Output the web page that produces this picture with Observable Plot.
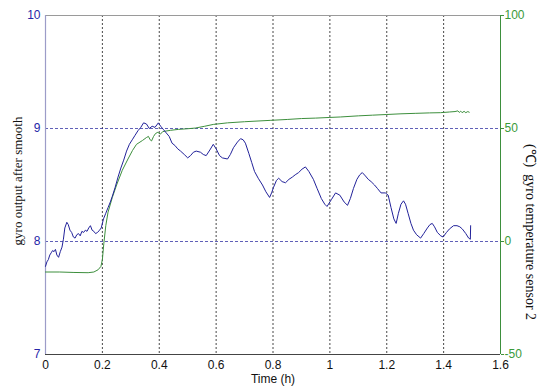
<!DOCTYPE html>
<html>
<head>
<meta charset="utf-8">
<script src="https://cdn.jsdelivr.net/npm/d3@7"></script>
<script src="https://cdn.jsdelivr.net/npm/@observablehq/plot@0.6"></script>
<style>
  html, body { margin: 0; padding: 0; background: #fff; }
  #chart { width: 540px; height: 391px; }
</style>
</head>
<body>
<div id="chart"></div>
<script>
// ---- data ----
const xTicks = [0, 0.2, 0.4, 0.6, 0.8, 1, 1.2, 1.4, 1.6];
const gridXTicks = [0.2, 0.4, 0.6, 0.8, 1, 1.2, 1.4];
const leftTicks = [7, 8, 9, 10];
const gridYTicks = [8, 9];
const rightTickLabels = [-50, 0, 50, 100];

const gyroTime = [0,0.005,0.01,0.015,0.02,0.025,0.03,0.035,0.04,0.046,0.052,0.058,0.063,0.068,0.075,0.08,0.086,0.092,0.098,0.104,0.11,0.116,0.122,0.128,0.134,0.14,0.146,0.152,0.158,0.164,0.17,0.176,0.183,0.19,0.196,0.204,0.212,0.22,0.228,0.235,0.245,0.255,0.265,0.275,0.285,0.295,0.305,0.315,0.325,0.335,0.345,0.355,0.365,0.375,0.385,0.397,0.405,0.415,0.425,0.435,0.445,0.455,0.465,0.475,0.488,0.5,0.51,0.52,0.53,0.545,0.555,0.565,0.578,0.59,0.6,0.612,0.622,0.64,0.65,0.661,0.675,0.686,0.695,0.703,0.715,0.725,0.735,0.748,0.763,0.775,0.788,0.795,0.802,0.812,0.82,0.832,0.844,0.856,0.868,0.878,0.89,0.902,0.914,0.926,0.942,0.955,0.97,0.982,0.99,1.005,1.02,1.035,1.05,1.062,1.072,1.083,1.095,1.105,1.114,1.125,1.135,1.145,1.157,1.167,1.18,1.195,1.205,1.215,1.225,1.233,1.241,1.25,1.259,1.266,1.275,1.285,1.294,1.305,1.319,1.33,1.343,1.352,1.36,1.368,1.378,1.39,1.398,1.41,1.42,1.435,1.447,1.457,1.466,1.478,1.488,1.494,1.495];
const gyroOutput = [7.78,7.82,7.84,7.88,7.9,7.92,7.91,7.93,7.88,7.86,7.91,7.95,8.02,8.12,8.17,8.15,8.1,8.08,8.04,8.03,8.06,8.07,8.05,8.09,8.08,8.1,8.09,8.12,8.14,8.1,8.09,8.07,8.08,8.1,8.12,8.2,8.25,8.3,8.35,8.4,8.48,8.57,8.65,8.72,8.8,8.86,8.9,8.94,8.98,9.01,9.05,9.04,9.0,9.02,9.01,9.05,9.02,8.99,8.96,8.93,8.87,8.85,8.82,8.8,8.77,8.74,8.76,8.79,8.8,8.79,8.77,8.76,8.81,8.86,8.82,8.76,8.74,8.73,8.77,8.83,8.88,8.91,8.9,8.87,8.78,8.7,8.62,8.56,8.5,8.44,8.39,8.43,8.48,8.54,8.56,8.53,8.52,8.55,8.57,8.59,8.61,8.64,8.66,8.62,8.55,8.47,8.38,8.33,8.31,8.37,8.43,8.41,8.35,8.32,8.38,8.47,8.55,8.59,8.61,8.58,8.55,8.53,8.5,8.47,8.43,8.43,8.41,8.3,8.2,8.16,8.25,8.33,8.36,8.33,8.25,8.16,8.1,8.06,8.03,8.07,8.12,8.15,8.16,8.13,8.08,8.05,8.04,8.08,8.11,8.14,8.14,8.13,8.11,8.07,8.03,8.02,8.14];

const tempTime = [0,0.05,0.1,0.15,0.17,0.185,0.195,0.2,0.205,0.212,0.22,0.235,0.25,0.27,0.29,0.306,0.32,0.341,0.355,0.362,0.368,0.373,0.38,0.387,0.395,0.404,0.412,0.42,0.44,0.467,0.5,0.527,0.56,0.59,0.64,0.7,0.79,0.85,0.9,0.95,1.0,1.037,1.1,1.15,1.2,1.25,1.3,1.35,1.389,1.42,1.44,1.45,1.455,1.46,1.465,1.472,1.478,1.485,1.49];
const tempSensor2 = [-13.5,-13.5,-13.7,-13.8,-13.5,-12.5,-11,-8,-1,7,13,19.5,25,31.5,36.5,40.3,43,44.7,46,46.5,45,44.5,46.5,47.8,48.3,47.5,48.6,48.8,49.2,49.6,49.9,50.2,51,51.8,52.5,53,53.6,54,54.4,54.6,54.9,55.1,55.6,55.9,56.2,56.5,56.7,56.9,57,57.3,57.5,57.8,57.1,57.7,57.0,57.6,57.0,57.5,57.2];

const xLabel = "Time (h)";
const leftLabel = "gyro output after smooth";
const rightLabel = "(\u2103)\u00a0\u00a0gyro temperature sensor 2";

// ---- build tables ----
const BLUE = "#22229a";
const BLUE_TXT = "#2626a8";
const GREEN = "#3d8f3d";
const GREEN_TXT = "#3a9a3a";

// right axis (-50..100) mapped onto the left scale (7..10)
const tempToLeft = t => 7 + (t + 50) / 50;
const leftToTemp = v => Math.round((v - 7) * 50 - 50);

const gyroData = gyroTime.map((t, i) => ({t, v: gyroOutput[i]}));
const tempData = tempTime.map((t, i) => ({t, v: tempToLeft(tempSensor2[i])}));
const rightTicks = rightTickLabels.map(tempToLeft);
const fmt = d => String(+(+d).toFixed(1));

const chart = Plot.plot({
  width: 540,
  height: 391,
  marginTop: 15,
  marginBottom: 37,
  marginLeft: 45,
  marginRight: 40,
  style: {fontFamily: "'Liberation Sans', Arial, sans-serif", fontSize: "12px", background: "white"},
  x: {domain: [0, 1.6]},
  y: {domain: [7, 10]},
  marks: [
    Plot.gridX(gridXTicks, {stroke: "#000", strokeOpacity: 0.9, strokeDasharray: "2,2", strokeWidth: 0.8}),
    Plot.gridY(gridYTicks, {stroke: BLUE, strokeOpacity: 0.9, strokeDasharray: "3,2", strokeWidth: 0.8}),
    Plot.ruleY([10], {stroke: "#9a9a9a", strokeWidth: 1.2}),
    Plot.ruleY([7], {stroke: "#444", strokeWidth: 1}),
    Plot.ruleX([0], {stroke: "#9c9cc8", strokeWidth: 1.2}),
    Plot.ruleX([1.6], {stroke: GREEN, strokeWidth: 1}),
    Plot.line(tempData, {x: "t", y: "v", stroke: GREEN, strokeWidth: 1}),
    Plot.line(gyroData, {x: "t", y: "v", stroke: BLUE, strokeWidth: 1}),
    Plot.axisX({ticks: xTicks, tickFormat: fmt, tickSize: 0, tickPadding: 6, label: null, fill: "#111", fontSize: 12}),
    Plot.axisY({ticks: leftTicks, tickFormat: fmt, tickSize: 0, tickPadding: 5, label: null, fill: BLUE_TXT, fontSize: 12}),
    Plot.axisY({anchor: "right", ticks: rightTicks, tickFormat: leftToTemp, tickSize: 3, tickPadding: 1, label: null, fill: GREEN_TXT, stroke: GREEN, fontSize: 12}),
    Plot.text([xLabel], {frameAnchor: "bottom", textAnchor: "middle", dy: 28, fontSize: 12, fill: "#111"}),
    Plot.text([leftLabel], {frameAnchor: "left", textAnchor: "middle", dx: -28, dy: -4, rotate: -90, fontSize: 13, fontFamily: "'Liberation Serif', 'Times New Roman', serif", fill: "#111"}),
    Plot.text([rightLabel], {frameAnchor: "right", textAnchor: "middle", dx: 30, dy: 47, rotate: 90, fontSize: 14, fontFamily: "'Liberation Serif', 'Times New Roman', serif", fill: "#111"})
  ]
});
document.getElementById("chart").appendChild(chart);
</script>
</body>
</html>
